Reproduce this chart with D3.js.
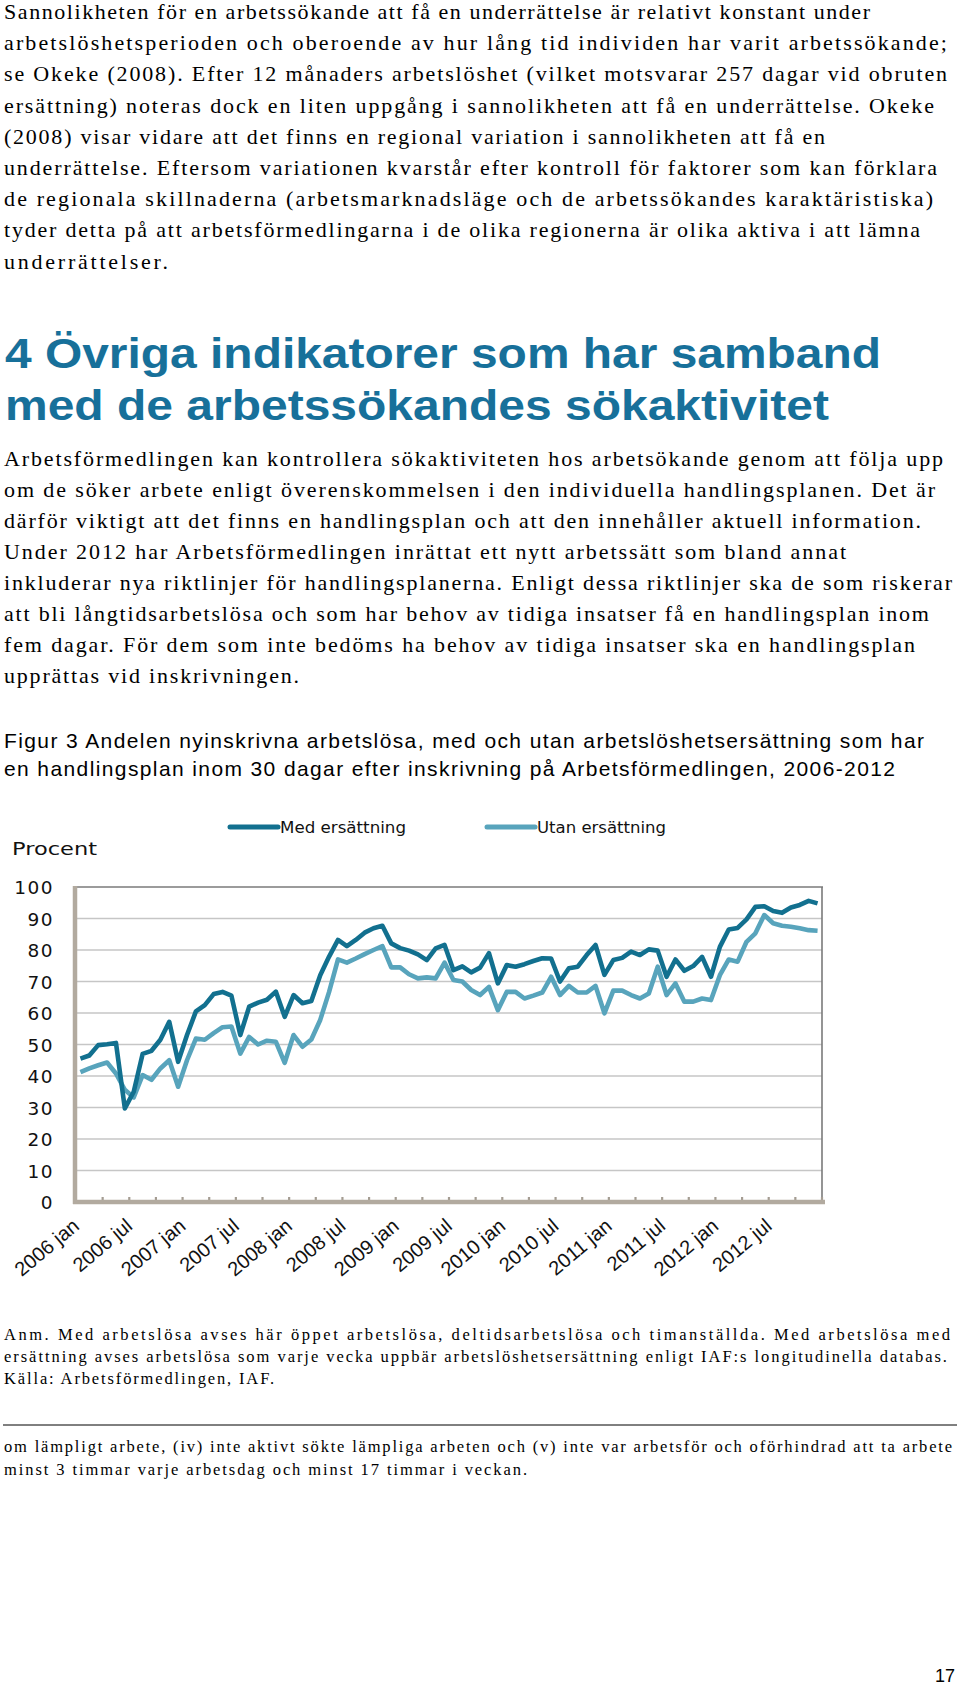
<!DOCTYPE html>
<html><head><meta charset="utf-8">
<script src="https://cdn.jsdelivr.net/npm/d3@7/dist/d3.min.js"></script>
<style>
body{margin:0;background:#fff}
svg{display:block}
</style>
</head><body>
<svg id="page" width="960" height="1694"></svg>
<script>
// ---------- DATA ----------
const years = [2006, 2007, 2008, 2009, 2010, 2011, 2012];
const monthNames = ["jan","feb","mar","apr","maj","jun","jul","aug","sep","okt","nov","dec"];
const categories = years.flatMap(y => monthNames.map(m => y + " " + m));
const tickLabels = ["2006 jan","2006 jul","2007 jan","2007 jul","2008 jan","2008 jul","2009 jan",
                    "2009 jul","2010 jan","2010 jul","2011 jan","2011 jul","2012 jan","2012 jul"];
const seriesNames = ["Med ersättning", "Utan ersättning"];
const medErsattning = [
  45.5,46.5,49.8,50.1,50.5,29.7,35.0,47.0,48.0,51.5,57.2,44.5,
  53.0,60.5,62.5,66.0,66.7,65.5,53.0,62.0,63.3,64.2,66.8,58.8,
  65.7,63.1,63.8,72.0,77.9,83.2,81.2,83.2,85.5,86.9,87.7,82.1,
  80.6,79.8,78.6,76.8,80.5,81.6,73.6,74.8,72.9,74.4,79.0,69.4,
  75.2,74.7,75.5,76.5,77.4,77.3,70.0,74.2,74.7,78.4,81.6,72.1,
  76.8,77.5,79.5,78.4,80.2,79.8,71.5,77.0,73.4,74.9,77.8,71.5,
  81.0,86.5,87.0,89.7,93.7,93.9,92.4,91.8,93.5,94.3,95.6,94.8
];
const utanErsattning = [
  41.2,42.4,43.4,44.3,40.8,35.6,33.2,40.3,38.8,42.4,45.0,36.6,
  45.0,51.9,51.5,53.6,55.5,55.7,47.1,52.4,50.0,51.2,50.9,44.2,
  53.0,49.3,51.6,57.8,66.7,77.0,76.0,77.3,78.7,80.0,81.2,74.5,
  74.5,72.3,71.0,71.3,71.0,76.0,70.5,70.0,67.3,65.7,68.3,60.9,
  66.7,66.7,64.6,65.5,66.5,71.5,65.7,68.6,66.5,66.5,68.6,59.9,
  67.1,67.1,65.7,64.6,66.2,74.7,65.7,69.4,63.6,63.6,64.6,64.1,
  72.0,77.0,76.3,82.6,85.3,91.1,88.5,87.7,87.4,86.9,86.3,86.1
];
const yTicks = [0,10,20,30,40,50,60,70,80,90,100];

const paragraph1 = [
  "Sannolikheten för en arbetssökande att få en underrättelse är relativt konstant under",
  "arbetslöshetsperioden och oberoende av hur lång tid individen har varit arbetssökande;",
  "se Okeke (2008). Efter 12 månaders arbetslöshet (vilket motsvarar 257 dagar vid obruten",
  "ersättning) noteras dock en liten uppgång i sannolikheten att få en underrättelse. Okeke",
  "(2008) visar vidare att det finns en regional variation i sannolikheten att få en",
  "underrättelse. Eftersom variationen kvarstår efter kontroll för faktorer som kan förklara",
  "de regionala skillnaderna (arbetsmarknadsläge och de arbetssökandes karaktäristiska)",
  "tyder detta på att arbetsförmedlingarna i de olika regionerna är olika aktiva i att lämna",
  "underrättelser."
];
const heading = ["4 Övriga indikatorer som har samband", "med de arbetssökandes sökaktivitet"];
const paragraph2 = [
  "Arbetsförmedlingen kan kontrollera sökaktiviteten hos arbetsökande genom att följa upp",
  "om de söker arbete enligt överenskommelsen i den individuella handlingsplanen. Det är",
  "därför viktigt att det finns en handlingsplan och att den innehåller aktuell information.",
  "Under 2012 har Arbetsförmedlingen inrättat ett nytt arbetssätt som bland annat",
  "inkluderar nya riktlinjer för handlingsplanerna. Enligt dessa riktlinjer ska de som riskerar",
  "att bli långtidsarbetslösa och som har behov av tidiga insatser få en handlingsplan inom",
  "fem dagar. För dem som inte bedöms ha behov av tidiga insatser ska en handlingsplan",
  "upprättas vid inskrivningen."
];
const caption = [
  "Figur 3 Andelen nyinskrivna arbetslösa, med och utan arbetslöshetsersättning som har",
  "en handlingsplan inom 30 dagar efter inskrivning på Arbetsförmedlingen, 2006-2012"
];
const notes = [
  "Anm. Med arbetslösa avses här öppet arbetslösa, deltidsarbetslösa och timanställda. Med arbetslösa med",
  "ersättning avses arbetslösa som varje vecka uppbär arbetslöshetsersättning enligt IAF:s longitudinella databas.",
  "Källa: Arbetsförmedlingen, IAF."
];
const footnote = [
  "om lämpligt arbete, (iv) inte aktivt sökte lämpliga arbeten och (v) inte var arbetsför och oförhindrad att ta arbete",
  "minst 3 timmar varje arbetsdag och minst 17 timmar i veckan."
];
const yAxisTitle = "Procent";
const pageNumber = "17";

// ---------- LAYOUT ----------
const svg = d3.select("#page");
svg.append("rect").attr("width",960).attr("height",1694).attr("fill","#fff");

const serif = "'Liberation Serif','Times New Roman',serif";
const sans = "'Liberation Sans',Arial,sans-serif";

function block(lines, opt) {
  const g = svg.append("g");
  g.selectAll("text").data(lines).join("text")
    .attr("x", opt.x)
    .attr("y", (d,i) => opt.y + i*opt.dy)
    .attr("font-family", opt.font)
    .attr("font-size", opt.size)
    .attr("font-weight", opt.weight || "normal")
    .attr("fill", opt.color || "#000")
    .attr("textLength", (d,i) => opt.widths[i])
    .attr("lengthAdjust", opt.adjust || "spacing")
    .text(d => d);
}

block(paragraph1, {x:4, y:19, dy:31.2, font:serif, size:22,
  widths:[866,943,943,930,821,933,929,916,164]});
block(heading, {x:5, y:368, dy:52, font:sans, size:43, weight:"bold", color:"#17709a",
  adjust:"spacingAndGlyphs", widths:[876,824]});
block(paragraph2, {x:4, y:466, dy:31, font:serif, size:22,
  widths:[939,931,917,842,948,925,911,295]});
block(caption, {x:4, y:748, dy:28, font:sans, size:21,
  widths:[920,891]});
block(notes, {x:4, y:1340, dy:22, font:serif, size:16.5,
  widths:[946,943,270]});
svg.append("line").attr("x1",3).attr("x2",957).attr("y1",1425).attr("y2",1425)
  .attr("stroke","#000").attr("stroke-width",1);
block(footnote, {x:4, y:1452, dy:23, font:serif, size:16.5,
  widths:[948,523]});
svg.append("text").attr("x",955).attr("y",1682).attr("text-anchor","end")
  .attr("font-family",sans).attr("font-size",18).text(pageNumber);

// ---------- CHART ----------
const chartFont = "'DejaVu Sans',Verdana,sans-serif";
const plot = {left:76, right:822, top:887, bottom:1202};
const x = d3.scaleBand().domain(categories).range([plot.left, plot.right]).padding(0);
const cx = d => x(d) + x.bandwidth()/2;
const y = d3.scaleLinear().domain([0,100]).range([plot.bottom, plot.top]);

const colors = ["#12708f", "#58a4bc"];
const series = [medErsattning, utanErsattning];

const chart = svg.append("g");

// gridlines
chart.append("g").selectAll("line").data(yTicks.filter(t => t>0 && t<100)).join("line")
  .attr("x1", plot.left).attr("x2", plot.right)
  .attr("y1", d => y(d)).attr("y2", d => y(d))
  .attr("stroke", "#c6c6c6").attr("stroke-width", 1.3);

// plot border top & right
chart.append("line").attr("x1",plot.left).attr("x2",plot.right+1)
  .attr("y1",y(100)).attr("y2",y(100)).attr("stroke","#7a7a7a").attr("stroke-width",1.6);
chart.append("line").attr("x1",plot.right).attr("x2",plot.right)
  .attr("y1",y(100)).attr("y2",plot.bottom).attr("stroke","#7a7a7a").attr("stroke-width",1.6);

// y axis labels
const yAxis = d3.axisLeft(y).tickValues(yTicks).tickSize(0).tickPadding(0);
const yg = chart.append("g").attr("transform", `translate(${54},0)`).call(yAxis);
yg.select(".domain").remove();
yg.selectAll("text").attr("font-family", chartFont).attr("font-size", 18.5)
  .attr("letter-spacing", "1.5px").attr("fill", "#111").attr("x", 0).attr("dy","0.36em");

// left axis line
chart.append("line").attr("x1",75).attr("x2",75).attr("y1",y(100)-1).attr("y2",plot.bottom+2)
  .attr("stroke","#b2aa9f").attr("stroke-width",4.5);

// bottom axis
const boundaries = categories.filter((d,i) => i % 3 === 0).map(d => x(d)).concat([plot.right]);
chart.append("g").selectAll("line").data(boundaries.slice(1)).join("line")
  .attr("x1", d => d).attr("x2", d => d)
  .attr("y1", plot.bottom - 5).attr("y2", plot.bottom)
  .attr("stroke", "#a49c92").attr("stroke-width", 2.2);
chart.append("line").attr("x1",73).attr("x2",plot.right+3).attr("y1",plot.bottom).attr("y2",plot.bottom)
  .attr("stroke","#b2aa9f").attr("stroke-width",4.5);

// x labels
const xAxis = d3.axisBottom(x).tickValues(tickLabels).tickSize(0).tickPadding(0);
const xg = chart.append("g").attr("transform", `translate(0,${plot.bottom})`).call(xAxis);
xg.select(".domain").remove();
xg.selectAll(".tick text")
  .attr("font-family", sans).attr("font-size", 20).attr("fill", "#111")
  .attr("text-anchor", "end").attr("y", 0).attr("dy", 0)
  .attr("transform", "translate(0,26) rotate(-40)");

// lines
const line = d3.line().x((d,i) => cx(categories[i])).y(d => y(d));
chart.append("g").selectAll("path").data(series).join("path")
  .attr("d", d => line(d))
  .attr("fill", "none")
  .attr("stroke", (d,i) => colors[i])
  .attr("stroke-width", 4.6)
  .attr("stroke-linejoin", "round")
  .attr("stroke-linecap", "butt");
chart.selectAll("path").filter((d,i) => i === 0).raise();

// y title
chart.append("text").attr("x", 12).attr("y", 855)
  .attr("font-family", chartFont).attr("font-size", 18).attr("fill","#111")
  .attr("textLength", 85).attr("lengthAdjust","spacingAndGlyphs").text(yAxisTitle);

// legend
const legendX = [230, 487];
const legendTextW = [126, 129];
const lg = chart.append("g").selectAll("g").data(seriesNames).join("g")
  .attr("transform", (d,i) => `translate(${legendX[i]},827)`);
lg.append("line").attr("x1",0).attr("x2",48).attr("y1",0).attr("y2",0)
  .attr("stroke",(d,i)=>colors[i]).attr("stroke-width",5).attr("stroke-linecap","round");
lg.append("text").attr("x",50).attr("y",6)
  .attr("font-family", chartFont).attr("font-size", 16.5).attr("fill","#111")
  .attr("textLength",(d,i)=>legendTextW[i]).attr("lengthAdjust","spacingAndGlyphs")
  .text(d => d);
</script>
</body></html>
